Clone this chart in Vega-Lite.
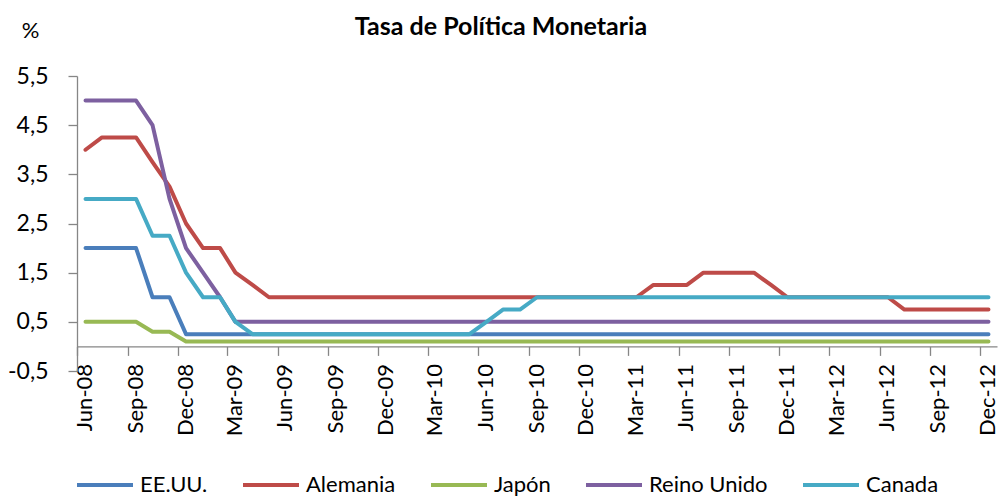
{
  "$schema": "https://vega.github.io/schema/vega-lite/v6.json",
  "autosize": "none",
  "padding": {"left": 77, "top": 76, "right": 2, "bottom": 126},
  "width": 920,
  "height": 295,
  "background": "white",
  "title": {
    "text": "Tasa de Política Monetaria",
    "font": "Lato",
    "fontSize": 25,
    "fontWeight": "bold",
    "color": "black",
    "frame": "group",
    "anchor": "middle",
    "baseline": "alphabetic",
    "dx": -36,
    "offset": -41
  },
  "config": {
    "font": "Lato",
    "view": {"stroke": null}
  },
  "data": {
    "values": [
      {"mes": "2008-06-01", "pais": "EE.UU.", "tasa": 2},
      {"mes": "2008-07-01", "pais": "EE.UU.", "tasa": 2},
      {"mes": "2008-08-01", "pais": "EE.UU.", "tasa": 2},
      {"mes": "2008-09-01", "pais": "EE.UU.", "tasa": 2},
      {"mes": "2008-10-01", "pais": "EE.UU.", "tasa": 1},
      {"mes": "2008-11-01", "pais": "EE.UU.", "tasa": 1},
      {"mes": "2008-12-01", "pais": "EE.UU.", "tasa": 0.25},
      {"mes": "2009-01-01", "pais": "EE.UU.", "tasa": 0.25},
      {"mes": "2009-02-01", "pais": "EE.UU.", "tasa": 0.25},
      {"mes": "2009-03-01", "pais": "EE.UU.", "tasa": 0.25},
      {"mes": "2009-04-01", "pais": "EE.UU.", "tasa": 0.25},
      {"mes": "2009-05-01", "pais": "EE.UU.", "tasa": 0.25},
      {"mes": "2009-06-01", "pais": "EE.UU.", "tasa": 0.25},
      {"mes": "2009-07-01", "pais": "EE.UU.", "tasa": 0.25},
      {"mes": "2009-08-01", "pais": "EE.UU.", "tasa": 0.25},
      {"mes": "2009-09-01", "pais": "EE.UU.", "tasa": 0.25},
      {"mes": "2009-10-01", "pais": "EE.UU.", "tasa": 0.25},
      {"mes": "2009-11-01", "pais": "EE.UU.", "tasa": 0.25},
      {"mes": "2009-12-01", "pais": "EE.UU.", "tasa": 0.25},
      {"mes": "2010-01-01", "pais": "EE.UU.", "tasa": 0.25},
      {"mes": "2010-02-01", "pais": "EE.UU.", "tasa": 0.25},
      {"mes": "2010-03-01", "pais": "EE.UU.", "tasa": 0.25},
      {"mes": "2010-04-01", "pais": "EE.UU.", "tasa": 0.25},
      {"mes": "2010-05-01", "pais": "EE.UU.", "tasa": 0.25},
      {"mes": "2010-06-01", "pais": "EE.UU.", "tasa": 0.25},
      {"mes": "2010-07-01", "pais": "EE.UU.", "tasa": 0.25},
      {"mes": "2010-08-01", "pais": "EE.UU.", "tasa": 0.25},
      {"mes": "2010-09-01", "pais": "EE.UU.", "tasa": 0.25},
      {"mes": "2010-10-01", "pais": "EE.UU.", "tasa": 0.25},
      {"mes": "2010-11-01", "pais": "EE.UU.", "tasa": 0.25},
      {"mes": "2010-12-01", "pais": "EE.UU.", "tasa": 0.25},
      {"mes": "2011-01-01", "pais": "EE.UU.", "tasa": 0.25},
      {"mes": "2011-02-01", "pais": "EE.UU.", "tasa": 0.25},
      {"mes": "2011-03-01", "pais": "EE.UU.", "tasa": 0.25},
      {"mes": "2011-04-01", "pais": "EE.UU.", "tasa": 0.25},
      {"mes": "2011-05-01", "pais": "EE.UU.", "tasa": 0.25},
      {"mes": "2011-06-01", "pais": "EE.UU.", "tasa": 0.25},
      {"mes": "2011-07-01", "pais": "EE.UU.", "tasa": 0.25},
      {"mes": "2011-08-01", "pais": "EE.UU.", "tasa": 0.25},
      {"mes": "2011-09-01", "pais": "EE.UU.", "tasa": 0.25},
      {"mes": "2011-10-01", "pais": "EE.UU.", "tasa": 0.25},
      {"mes": "2011-11-01", "pais": "EE.UU.", "tasa": 0.25},
      {"mes": "2011-12-01", "pais": "EE.UU.", "tasa": 0.25},
      {"mes": "2012-01-01", "pais": "EE.UU.", "tasa": 0.25},
      {"mes": "2012-02-01", "pais": "EE.UU.", "tasa": 0.25},
      {"mes": "2012-03-01", "pais": "EE.UU.", "tasa": 0.25},
      {"mes": "2012-04-01", "pais": "EE.UU.", "tasa": 0.25},
      {"mes": "2012-05-01", "pais": "EE.UU.", "tasa": 0.25},
      {"mes": "2012-06-01", "pais": "EE.UU.", "tasa": 0.25},
      {"mes": "2012-07-01", "pais": "EE.UU.", "tasa": 0.25},
      {"mes": "2012-08-01", "pais": "EE.UU.", "tasa": 0.25},
      {"mes": "2012-09-01", "pais": "EE.UU.", "tasa": 0.25},
      {"mes": "2012-10-01", "pais": "EE.UU.", "tasa": 0.25},
      {"mes": "2012-11-01", "pais": "EE.UU.", "tasa": 0.25},
      {"mes": "2012-12-01", "pais": "EE.UU.", "tasa": 0.25},

      {"mes": "2008-06-01", "pais": "Alemania", "tasa": 4},
      {"mes": "2008-07-01", "pais": "Alemania", "tasa": 4.25},
      {"mes": "2008-08-01", "pais": "Alemania", "tasa": 4.25},
      {"mes": "2008-09-01", "pais": "Alemania", "tasa": 4.25},
      {"mes": "2008-10-01", "pais": "Alemania", "tasa": 3.75},
      {"mes": "2008-11-01", "pais": "Alemania", "tasa": 3.25},
      {"mes": "2008-12-01", "pais": "Alemania", "tasa": 2.5},
      {"mes": "2009-01-01", "pais": "Alemania", "tasa": 2},
      {"mes": "2009-02-01", "pais": "Alemania", "tasa": 2},
      {"mes": "2009-03-01", "pais": "Alemania", "tasa": 1.5},
      {"mes": "2009-04-01", "pais": "Alemania", "tasa": 1.25},
      {"mes": "2009-05-01", "pais": "Alemania", "tasa": 1},
      {"mes": "2009-06-01", "pais": "Alemania", "tasa": 1},
      {"mes": "2009-07-01", "pais": "Alemania", "tasa": 1},
      {"mes": "2009-08-01", "pais": "Alemania", "tasa": 1},
      {"mes": "2009-09-01", "pais": "Alemania", "tasa": 1},
      {"mes": "2009-10-01", "pais": "Alemania", "tasa": 1},
      {"mes": "2009-11-01", "pais": "Alemania", "tasa": 1},
      {"mes": "2009-12-01", "pais": "Alemania", "tasa": 1},
      {"mes": "2010-01-01", "pais": "Alemania", "tasa": 1},
      {"mes": "2010-02-01", "pais": "Alemania", "tasa": 1},
      {"mes": "2010-03-01", "pais": "Alemania", "tasa": 1},
      {"mes": "2010-04-01", "pais": "Alemania", "tasa": 1},
      {"mes": "2010-05-01", "pais": "Alemania", "tasa": 1},
      {"mes": "2010-06-01", "pais": "Alemania", "tasa": 1},
      {"mes": "2010-07-01", "pais": "Alemania", "tasa": 1},
      {"mes": "2010-08-01", "pais": "Alemania", "tasa": 1},
      {"mes": "2010-09-01", "pais": "Alemania", "tasa": 1},
      {"mes": "2010-10-01", "pais": "Alemania", "tasa": 1},
      {"mes": "2010-11-01", "pais": "Alemania", "tasa": 1},
      {"mes": "2010-12-01", "pais": "Alemania", "tasa": 1},
      {"mes": "2011-01-01", "pais": "Alemania", "tasa": 1},
      {"mes": "2011-02-01", "pais": "Alemania", "tasa": 1},
      {"mes": "2011-03-01", "pais": "Alemania", "tasa": 1},
      {"mes": "2011-04-01", "pais": "Alemania", "tasa": 1.25},
      {"mes": "2011-05-01", "pais": "Alemania", "tasa": 1.25},
      {"mes": "2011-06-01", "pais": "Alemania", "tasa": 1.25},
      {"mes": "2011-07-01", "pais": "Alemania", "tasa": 1.5},
      {"mes": "2011-08-01", "pais": "Alemania", "tasa": 1.5},
      {"mes": "2011-09-01", "pais": "Alemania", "tasa": 1.5},
      {"mes": "2011-10-01", "pais": "Alemania", "tasa": 1.5},
      {"mes": "2011-11-01", "pais": "Alemania", "tasa": 1.25},
      {"mes": "2011-12-01", "pais": "Alemania", "tasa": 1},
      {"mes": "2012-01-01", "pais": "Alemania", "tasa": 1},
      {"mes": "2012-02-01", "pais": "Alemania", "tasa": 1},
      {"mes": "2012-03-01", "pais": "Alemania", "tasa": 1},
      {"mes": "2012-04-01", "pais": "Alemania", "tasa": 1},
      {"mes": "2012-05-01", "pais": "Alemania", "tasa": 1},
      {"mes": "2012-06-01", "pais": "Alemania", "tasa": 1},
      {"mes": "2012-07-01", "pais": "Alemania", "tasa": 0.75},
      {"mes": "2012-08-01", "pais": "Alemania", "tasa": 0.75},
      {"mes": "2012-09-01", "pais": "Alemania", "tasa": 0.75},
      {"mes": "2012-10-01", "pais": "Alemania", "tasa": 0.75},
      {"mes": "2012-11-01", "pais": "Alemania", "tasa": 0.75},
      {"mes": "2012-12-01", "pais": "Alemania", "tasa": 0.75},

      {"mes": "2008-06-01", "pais": "Japón", "tasa": 0.5},
      {"mes": "2008-07-01", "pais": "Japón", "tasa": 0.5},
      {"mes": "2008-08-01", "pais": "Japón", "tasa": 0.5},
      {"mes": "2008-09-01", "pais": "Japón", "tasa": 0.5},
      {"mes": "2008-10-01", "pais": "Japón", "tasa": 0.3},
      {"mes": "2008-11-01", "pais": "Japón", "tasa": 0.3},
      {"mes": "2008-12-01", "pais": "Japón", "tasa": 0.1},
      {"mes": "2009-01-01", "pais": "Japón", "tasa": 0.1},
      {"mes": "2009-02-01", "pais": "Japón", "tasa": 0.1},
      {"mes": "2009-03-01", "pais": "Japón", "tasa": 0.1},
      {"mes": "2009-04-01", "pais": "Japón", "tasa": 0.1},
      {"mes": "2009-05-01", "pais": "Japón", "tasa": 0.1},
      {"mes": "2009-06-01", "pais": "Japón", "tasa": 0.1},
      {"mes": "2009-07-01", "pais": "Japón", "tasa": 0.1},
      {"mes": "2009-08-01", "pais": "Japón", "tasa": 0.1},
      {"mes": "2009-09-01", "pais": "Japón", "tasa": 0.1},
      {"mes": "2009-10-01", "pais": "Japón", "tasa": 0.1},
      {"mes": "2009-11-01", "pais": "Japón", "tasa": 0.1},
      {"mes": "2009-12-01", "pais": "Japón", "tasa": 0.1},
      {"mes": "2010-01-01", "pais": "Japón", "tasa": 0.1},
      {"mes": "2010-02-01", "pais": "Japón", "tasa": 0.1},
      {"mes": "2010-03-01", "pais": "Japón", "tasa": 0.1},
      {"mes": "2010-04-01", "pais": "Japón", "tasa": 0.1},
      {"mes": "2010-05-01", "pais": "Japón", "tasa": 0.1},
      {"mes": "2010-06-01", "pais": "Japón", "tasa": 0.1},
      {"mes": "2010-07-01", "pais": "Japón", "tasa": 0.1},
      {"mes": "2010-08-01", "pais": "Japón", "tasa": 0.1},
      {"mes": "2010-09-01", "pais": "Japón", "tasa": 0.1},
      {"mes": "2010-10-01", "pais": "Japón", "tasa": 0.1},
      {"mes": "2010-11-01", "pais": "Japón", "tasa": 0.1},
      {"mes": "2010-12-01", "pais": "Japón", "tasa": 0.1},
      {"mes": "2011-01-01", "pais": "Japón", "tasa": 0.1},
      {"mes": "2011-02-01", "pais": "Japón", "tasa": 0.1},
      {"mes": "2011-03-01", "pais": "Japón", "tasa": 0.1},
      {"mes": "2011-04-01", "pais": "Japón", "tasa": 0.1},
      {"mes": "2011-05-01", "pais": "Japón", "tasa": 0.1},
      {"mes": "2011-06-01", "pais": "Japón", "tasa": 0.1},
      {"mes": "2011-07-01", "pais": "Japón", "tasa": 0.1},
      {"mes": "2011-08-01", "pais": "Japón", "tasa": 0.1},
      {"mes": "2011-09-01", "pais": "Japón", "tasa": 0.1},
      {"mes": "2011-10-01", "pais": "Japón", "tasa": 0.1},
      {"mes": "2011-11-01", "pais": "Japón", "tasa": 0.1},
      {"mes": "2011-12-01", "pais": "Japón", "tasa": 0.1},
      {"mes": "2012-01-01", "pais": "Japón", "tasa": 0.1},
      {"mes": "2012-02-01", "pais": "Japón", "tasa": 0.1},
      {"mes": "2012-03-01", "pais": "Japón", "tasa": 0.1},
      {"mes": "2012-04-01", "pais": "Japón", "tasa": 0.1},
      {"mes": "2012-05-01", "pais": "Japón", "tasa": 0.1},
      {"mes": "2012-06-01", "pais": "Japón", "tasa": 0.1},
      {"mes": "2012-07-01", "pais": "Japón", "tasa": 0.1},
      {"mes": "2012-08-01", "pais": "Japón", "tasa": 0.1},
      {"mes": "2012-09-01", "pais": "Japón", "tasa": 0.1},
      {"mes": "2012-10-01", "pais": "Japón", "tasa": 0.1},
      {"mes": "2012-11-01", "pais": "Japón", "tasa": 0.1},
      {"mes": "2012-12-01", "pais": "Japón", "tasa": 0.1},

      {"mes": "2008-06-01", "pais": "Reino Unido", "tasa": 5},
      {"mes": "2008-07-01", "pais": "Reino Unido", "tasa": 5},
      {"mes": "2008-08-01", "pais": "Reino Unido", "tasa": 5},
      {"mes": "2008-09-01", "pais": "Reino Unido", "tasa": 5},
      {"mes": "2008-10-01", "pais": "Reino Unido", "tasa": 4.5},
      {"mes": "2008-11-01", "pais": "Reino Unido", "tasa": 3},
      {"mes": "2008-12-01", "pais": "Reino Unido", "tasa": 2},
      {"mes": "2009-01-01", "pais": "Reino Unido", "tasa": 1.5},
      {"mes": "2009-02-01", "pais": "Reino Unido", "tasa": 1},
      {"mes": "2009-03-01", "pais": "Reino Unido", "tasa": 0.5},
      {"mes": "2009-04-01", "pais": "Reino Unido", "tasa": 0.5},
      {"mes": "2009-05-01", "pais": "Reino Unido", "tasa": 0.5},
      {"mes": "2009-06-01", "pais": "Reino Unido", "tasa": 0.5},
      {"mes": "2009-07-01", "pais": "Reino Unido", "tasa": 0.5},
      {"mes": "2009-08-01", "pais": "Reino Unido", "tasa": 0.5},
      {"mes": "2009-09-01", "pais": "Reino Unido", "tasa": 0.5},
      {"mes": "2009-10-01", "pais": "Reino Unido", "tasa": 0.5},
      {"mes": "2009-11-01", "pais": "Reino Unido", "tasa": 0.5},
      {"mes": "2009-12-01", "pais": "Reino Unido", "tasa": 0.5},
      {"mes": "2010-01-01", "pais": "Reino Unido", "tasa": 0.5},
      {"mes": "2010-02-01", "pais": "Reino Unido", "tasa": 0.5},
      {"mes": "2010-03-01", "pais": "Reino Unido", "tasa": 0.5},
      {"mes": "2010-04-01", "pais": "Reino Unido", "tasa": 0.5},
      {"mes": "2010-05-01", "pais": "Reino Unido", "tasa": 0.5},
      {"mes": "2010-06-01", "pais": "Reino Unido", "tasa": 0.5},
      {"mes": "2010-07-01", "pais": "Reino Unido", "tasa": 0.5},
      {"mes": "2010-08-01", "pais": "Reino Unido", "tasa": 0.5},
      {"mes": "2010-09-01", "pais": "Reino Unido", "tasa": 0.5},
      {"mes": "2010-10-01", "pais": "Reino Unido", "tasa": 0.5},
      {"mes": "2010-11-01", "pais": "Reino Unido", "tasa": 0.5},
      {"mes": "2010-12-01", "pais": "Reino Unido", "tasa": 0.5},
      {"mes": "2011-01-01", "pais": "Reino Unido", "tasa": 0.5},
      {"mes": "2011-02-01", "pais": "Reino Unido", "tasa": 0.5},
      {"mes": "2011-03-01", "pais": "Reino Unido", "tasa": 0.5},
      {"mes": "2011-04-01", "pais": "Reino Unido", "tasa": 0.5},
      {"mes": "2011-05-01", "pais": "Reino Unido", "tasa": 0.5},
      {"mes": "2011-06-01", "pais": "Reino Unido", "tasa": 0.5},
      {"mes": "2011-07-01", "pais": "Reino Unido", "tasa": 0.5},
      {"mes": "2011-08-01", "pais": "Reino Unido", "tasa": 0.5},
      {"mes": "2011-09-01", "pais": "Reino Unido", "tasa": 0.5},
      {"mes": "2011-10-01", "pais": "Reino Unido", "tasa": 0.5},
      {"mes": "2011-11-01", "pais": "Reino Unido", "tasa": 0.5},
      {"mes": "2011-12-01", "pais": "Reino Unido", "tasa": 0.5},
      {"mes": "2012-01-01", "pais": "Reino Unido", "tasa": 0.5},
      {"mes": "2012-02-01", "pais": "Reino Unido", "tasa": 0.5},
      {"mes": "2012-03-01", "pais": "Reino Unido", "tasa": 0.5},
      {"mes": "2012-04-01", "pais": "Reino Unido", "tasa": 0.5},
      {"mes": "2012-05-01", "pais": "Reino Unido", "tasa": 0.5},
      {"mes": "2012-06-01", "pais": "Reino Unido", "tasa": 0.5},
      {"mes": "2012-07-01", "pais": "Reino Unido", "tasa": 0.5},
      {"mes": "2012-08-01", "pais": "Reino Unido", "tasa": 0.5},
      {"mes": "2012-09-01", "pais": "Reino Unido", "tasa": 0.5},
      {"mes": "2012-10-01", "pais": "Reino Unido", "tasa": 0.5},
      {"mes": "2012-11-01", "pais": "Reino Unido", "tasa": 0.5},
      {"mes": "2012-12-01", "pais": "Reino Unido", "tasa": 0.5},

      {"mes": "2008-06-01", "pais": "Canada", "tasa": 3},
      {"mes": "2008-07-01", "pais": "Canada", "tasa": 3},
      {"mes": "2008-08-01", "pais": "Canada", "tasa": 3},
      {"mes": "2008-09-01", "pais": "Canada", "tasa": 3},
      {"mes": "2008-10-01", "pais": "Canada", "tasa": 2.25},
      {"mes": "2008-11-01", "pais": "Canada", "tasa": 2.25},
      {"mes": "2008-12-01", "pais": "Canada", "tasa": 1.5},
      {"mes": "2009-01-01", "pais": "Canada", "tasa": 1},
      {"mes": "2009-02-01", "pais": "Canada", "tasa": 1},
      {"mes": "2009-03-01", "pais": "Canada", "tasa": 0.5},
      {"mes": "2009-04-01", "pais": "Canada", "tasa": 0.25},
      {"mes": "2009-05-01", "pais": "Canada", "tasa": 0.25},
      {"mes": "2009-06-01", "pais": "Canada", "tasa": 0.25},
      {"mes": "2009-07-01", "pais": "Canada", "tasa": 0.25},
      {"mes": "2009-08-01", "pais": "Canada", "tasa": 0.25},
      {"mes": "2009-09-01", "pais": "Canada", "tasa": 0.25},
      {"mes": "2009-10-01", "pais": "Canada", "tasa": 0.25},
      {"mes": "2009-11-01", "pais": "Canada", "tasa": 0.25},
      {"mes": "2009-12-01", "pais": "Canada", "tasa": 0.25},
      {"mes": "2010-01-01", "pais": "Canada", "tasa": 0.25},
      {"mes": "2010-02-01", "pais": "Canada", "tasa": 0.25},
      {"mes": "2010-03-01", "pais": "Canada", "tasa": 0.25},
      {"mes": "2010-04-01", "pais": "Canada", "tasa": 0.25},
      {"mes": "2010-05-01", "pais": "Canada", "tasa": 0.25},
      {"mes": "2010-06-01", "pais": "Canada", "tasa": 0.5},
      {"mes": "2010-07-01", "pais": "Canada", "tasa": 0.75},
      {"mes": "2010-08-01", "pais": "Canada", "tasa": 0.75},
      {"mes": "2010-09-01", "pais": "Canada", "tasa": 1},
      {"mes": "2010-10-01", "pais": "Canada", "tasa": 1},
      {"mes": "2010-11-01", "pais": "Canada", "tasa": 1},
      {"mes": "2010-12-01", "pais": "Canada", "tasa": 1},
      {"mes": "2011-01-01", "pais": "Canada", "tasa": 1},
      {"mes": "2011-02-01", "pais": "Canada", "tasa": 1},
      {"mes": "2011-03-01", "pais": "Canada", "tasa": 1},
      {"mes": "2011-04-01", "pais": "Canada", "tasa": 1},
      {"mes": "2011-05-01", "pais": "Canada", "tasa": 1},
      {"mes": "2011-06-01", "pais": "Canada", "tasa": 1},
      {"mes": "2011-07-01", "pais": "Canada", "tasa": 1},
      {"mes": "2011-08-01", "pais": "Canada", "tasa": 1},
      {"mes": "2011-09-01", "pais": "Canada", "tasa": 1},
      {"mes": "2011-10-01", "pais": "Canada", "tasa": 1},
      {"mes": "2011-11-01", "pais": "Canada", "tasa": 1},
      {"mes": "2011-12-01", "pais": "Canada", "tasa": 1},
      {"mes": "2012-01-01", "pais": "Canada", "tasa": 1},
      {"mes": "2012-02-01", "pais": "Canada", "tasa": 1},
      {"mes": "2012-03-01", "pais": "Canada", "tasa": 1},
      {"mes": "2012-04-01", "pais": "Canada", "tasa": 1},
      {"mes": "2012-05-01", "pais": "Canada", "tasa": 1},
      {"mes": "2012-06-01", "pais": "Canada", "tasa": 1},
      {"mes": "2012-07-01", "pais": "Canada", "tasa": 1},
      {"mes": "2012-08-01", "pais": "Canada", "tasa": 1},
      {"mes": "2012-09-01", "pais": "Canada", "tasa": 1},
      {"mes": "2012-10-01", "pais": "Canada", "tasa": 1},
      {"mes": "2012-11-01", "pais": "Canada", "tasa": 1},
      {"mes": "2012-12-01", "pais": "Canada", "tasa": 1}
    ]
  },
  "mark": {"type": "line", "strokeWidth": 4, "strokeJoin": "round", "strokeCap": "round"},
  "encoding": {
    "x": {
      "field": "mes",
      "type": "temporal",
      "scale": {
        "type": "utc",
        "domain": [
          {"year": 2008, "month": 5, "date": 16, "hours": 12, "utc": true},
          {"year": 2012, "month": 12, "date": 16, "hours": 12, "utc": true}
        ]
      },
      "axis": {
        "title": null,
        "grid": false,
        "offset": -24.6,
        "values": [
          {"year": 2008, "month": 6, "date": 1, "utc": true},
          {"year": 2008, "month": 9, "date": 1, "utc": true},
          {"year": 2008, "month": 12, "date": 1, "utc": true},
          {"year": 2009, "month": 3, "date": 1, "utc": true},
          {"year": 2009, "month": 6, "date": 1, "utc": true},
          {"year": 2009, "month": 9, "date": 1, "utc": true},
          {"year": 2009, "month": 12, "date": 1, "utc": true},
          {"year": 2010, "month": 3, "date": 1, "utc": true},
          {"year": 2010, "month": 6, "date": 1, "utc": true},
          {"year": 2010, "month": 9, "date": 1, "utc": true},
          {"year": 2010, "month": 12, "date": 1, "utc": true},
          {"year": 2011, "month": 3, "date": 1, "utc": true},
          {"year": 2011, "month": 6, "date": 1, "utc": true},
          {"year": 2011, "month": 9, "date": 1, "utc": true},
          {"year": 2011, "month": 12, "date": 1, "utc": true},
          {"year": 2012, "month": 3, "date": 1, "utc": true},
          {"year": 2012, "month": 6, "date": 1, "utc": true},
          {"year": 2012, "month": 9, "date": 1, "utc": true},
          {"year": 2012, "month": 12, "date": 1, "utc": true}
        ],
        "labelExpr": "utcFormat(datum.value, '%b-%y')",
        "labelAngle": -90,
        "labelAlign": "right",
        "labelBaseline": "middle",
        "labelFont": "Lato",
        "labelFontSize": 22,
        "labelColor": "black",
        "labelPadding": 8,
        "labelOverlap": false,
        "labelFlush": false,
        "labelBound": false,
        "tickOffset": -8.4,
        "labelOffset": 7.4,
        "tickSize": 9,
        "tickColor": "#868686",
        "domainColor": "#868686",
        "domainWidth": 1.3,
        "tickWidth": 1.3
      }
    },
    "y": {
      "field": "tasa",
      "type": "quantitative",
      "scale": {"domain": [-0.5, 5.5], "nice": false, "zero": false},
      "axis": {
        "title": "%",
        "titleAngle": 0,
        "titleX": -47,
        "titleY": -46,
        "titleAlign": "center",
        "titleBaseline": "middle",
        "titleFont": "Lato",
        "titleFontSize": 22,
        "titleFontWeight": "normal",
        "titleColor": "black",
        "grid": false,
        "values": [-0.5, 0.5, 1.5, 2.5, 3.5, 4.5, 5.5],
        "labelExpr": "replace(toString(datum.value), '.', ',')",
        "labelFont": "Lato",
        "labelFontSize": 23,
        "labelColor": "black",
        "labelPadding": 20,
        "tickSize": 9,
        "tickColor": "#868686",
        "domainColor": "#868686",
        "domainWidth": 1.3,
        "tickWidth": 1.3
      }
    },
    "color": {
      "field": "pais",
      "type": "nominal",
      "scale": {
        "domain": ["EE.UU.", "Alemania", "Japón", "Reino Unido", "Canada"],
        "range": ["#4A7EBB", "#BE4B48", "#98B954", "#7D60A0", "#46AAC5"]
      },
      "legend": {
        "title": null,
        "orient": "none",
        "direction": "horizontal",
        "legendX": -2,
        "legendY": 379,
        "padding": 0,
        "columnPadding": 27,
        "symbolType": "stroke",
        "symbolSize": 3136,
        "symbolStrokeWidth": 4,
        "labelOffset": 5,
        "labelBaseline": "middle",
        "labelFont": "Lato",
        "labelFontSize": 22,
        "labelColor": "black"
      }
    }
  }
}
